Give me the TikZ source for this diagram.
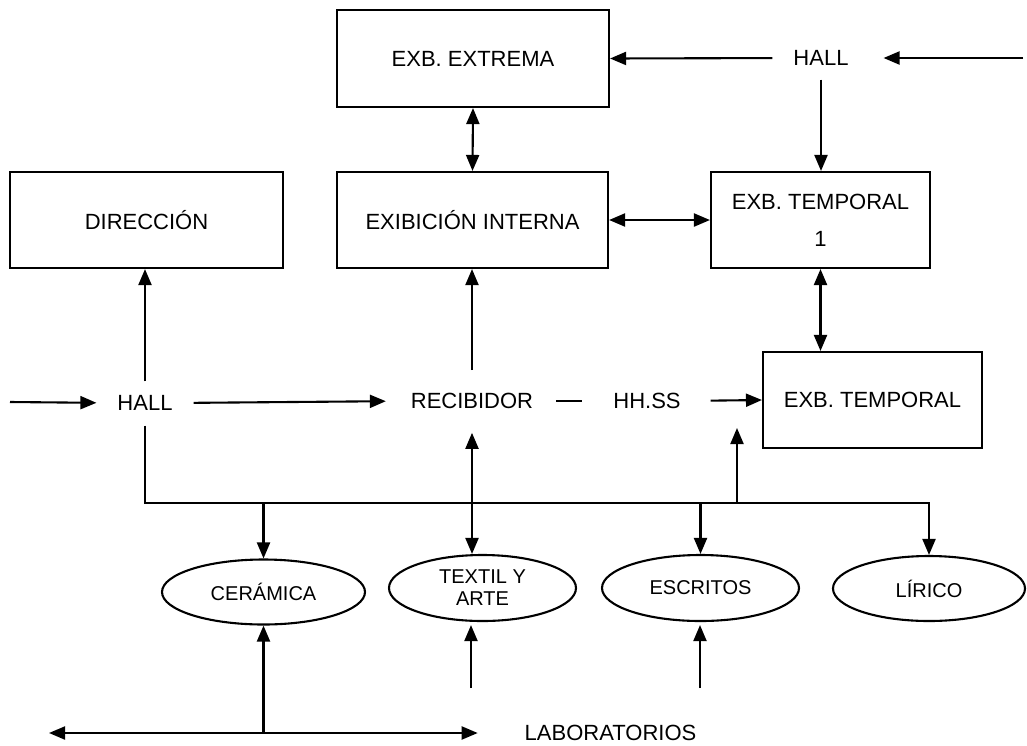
\documentclass[tikz,border=0pt]{standalone}
\usepackage{fontspec}
\setmainfont{Liberation Sans}
\usetikzlibrary{shapes.geometric,arrows.meta,calc}
\begin{document}
\begin{tikzpicture}[x=1pt,y=-1pt,
  line width=2.1pt,
  >={Triangle[length=16pt,width=13pt]},
  box/.style={draw, rectangle, line width=2.1pt, inner sep=0pt, align=center, font=\fontsize{22}{26}\selectfont},
  txt/.style={inner sep=0pt, font=\fontsize{22}{26}\selectfont},
  ell/.style={draw, ellipse, line width=2.1pt, inner sep=0pt, align=center, font=\fontsize{20}{22}\selectfont}]
\useasboundingbox (0,0) rectangle (1027,745);
% boxes
\node[box, minimum width=272pt, minimum height=97pt] (extrema) at (473,58.5) {EXB. EXTREMA};
\node[box, minimum width=273pt, minimum height=96pt] (direccion) at (146.5,220) {DIRECCIÓN};
\node[box, minimum width=271pt, minimum height=96pt] (interna) at (472.5,220) {EXIBICIÓN INTERNA};
\node[box, minimum width=219pt, minimum height=96pt] (temp1) at (820.5,220) {EXB. TEMPORAL\\[11pt]1};
\node[box, minimum width=219pt, minimum height=96pt] (temp) at (872.5,400) {EXB. TEMPORAL};
% plain texts
\node[txt] (hallt) at (821,58) {HALL};
\node[txt] (hallm) at (145,403) {HALL};
\node[txt] (recib) at (472,401) {RECIBIDOR};
\node[txt] (hhss) at (647,401) {HH.SS};
\node[txt] (lab) at (610.5,733) {LABORATORIOS};
% ellipses
\node[ell, minimum width=203pt, minimum height=65pt] (cer) at (263.5,592) {CERÁMICA};
\node[ell, minimum width=187pt, minimum height=66pt] (tex) at (482.5,588) {TEXTIL Y\\ARTE};
\node[ell, minimum width=197pt, minimum height=66pt] (esc) at (700.5,588) {ESCRITOS};
\node[ell, minimum width=192pt, minimum height=65pt] (lir) at (929,588.5) {LÍRICO};
% free ends
\coordinate (inT) at (1023,58);
\coordinate (inM) at (10,402);
\coordinate (bus) at (0,503);
\coordinate (upT) at (737,428);
\coordinate (labL) at (49,733);
\coordinate (texB) at (471,688);
\coordinate (escB) at (700,688);
% top connectors
\draw[->, shorten >=34pt] (inT) -- (hallt.east);
\draw[->, shorten <=20pt] (hallt.west) -- (extrema.east);
\draw[->, shorten <=13pt] (hallt.south) -- (hallt.south |- temp1.north);
\draw[<->] (extrema.south) -- (interna.north);
\draw[<->] (interna.east) -- (temp1.west);
\draw[<->] (temp1.south) -- (temp1.south |- temp.north);
% middle row
\draw[->, shorten >=20pt] (inM) -- (hallm.west);
\draw[->, shorten <=20pt, shorten >=24pt] (hallm.east) -- (recib.west);
\draw[->, shorten <=13pt] (hallm.north) -- (hallm.north |- direccion.south);
\draw[->, shorten <=22pt] (recib.north) -- (recib.north |- interna.south);
\draw[shorten <=22pt, shorten >=30pt] (recib.east) -- (hhss.west);
\draw[->, shorten <=29pt] (hhss.east) -- (temp.west);
% bus
\draw[->, shorten <=14pt] (hallm.south) -- (hallm.south |- bus) -| (lir.north);
\draw[->] (cer.north |- bus) -- (cer.north);
\draw[->] (esc.north |- bus) -- (esc.north);
\draw[->] (upT |- bus) -- (upT);
\draw[<->, shorten <=23pt] (recib.south) -- (recib.south |- tex.north);
% bottom
\draw[<->, shorten >=46pt] (labL) -- (lab.west);
\draw[->] (cer.south |- labL) -- (cer.south);
\draw[->, shorten >=3pt] (texB) -- (texB |- tex.south);
\draw[->, shorten >=3pt] (escB) -- (escB |- esc.south);
\end{tikzpicture}
\end{document}
